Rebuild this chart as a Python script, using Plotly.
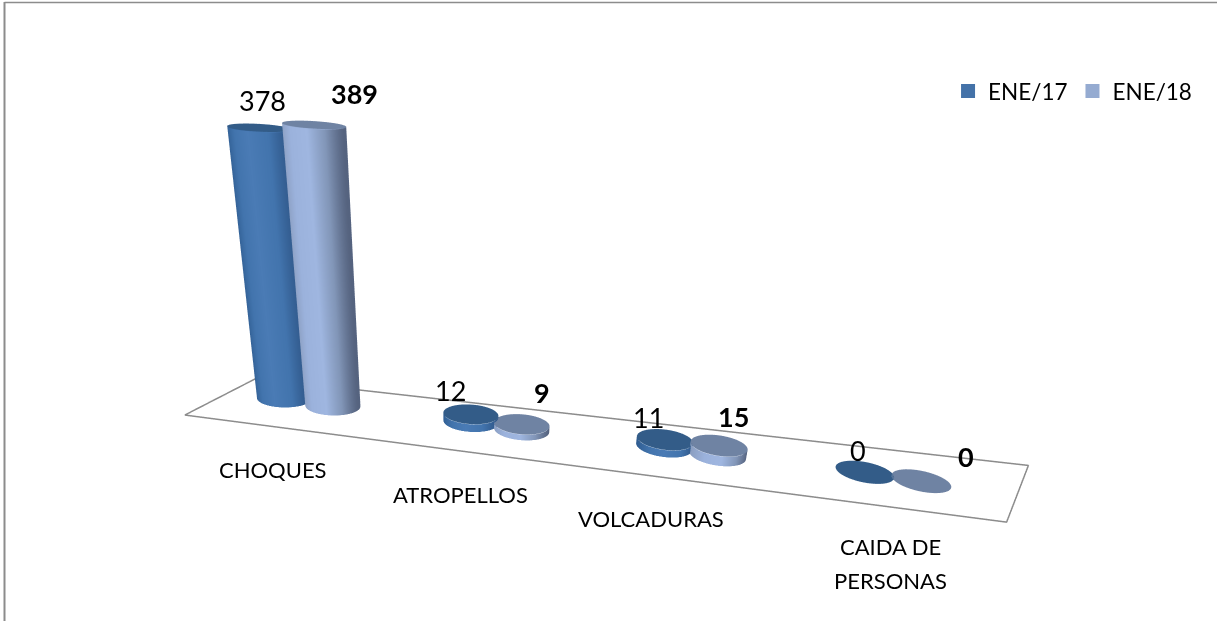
import numpy as np
import plotly.graph_objects as go

categories = ["CHOQUES", "ATROPELLOS", "VOLCADURAS", "CAIDA DE<br>PERSONAS"]
series_names = ["ENE/17", "ENE/18"]
values_17 = [378, 12, 11, 0]
values_18 = [389, 9, 15, 0]

R_X, R_Y = 0.142, 0.19
OFFS = [-0.135, 0.135]
DEPTH = [0.5, 0.47]
SCALES = [
    [[0, "#2f5c90"], [0.25, "#4274ad"], [0.5, "#4a7bb5"], [0.8, "#4274ad"], [1, "#30588a"]],
    [[0, "#8a9dbf"], [0.25, "#9bb2dc"], [0.55, "#9fb6e0"], [0.8, "#8296b8"], [1, "#55637f"]],
]
CAPS = ["#335c88", "#6f83a3"]
LEGEND = ["#4472a8", "#95abd1"]
LABEL_DX = [[3, -20, -16, -7], [40, 20, 15, 45]]
LABEL_DY = [[28, 24, 22, 22], [32, 32, 29, 25]]
CAT_DX = [22, -5, -39, -33]
CAT_DY = [-10, -6, 0, -13]

fig = go.Figure()
ang = np.linspace(0, 2 * np.pi, 73)
flat = dict(ambient=1, diffuse=0, specular=0, roughness=1, fresnel=0)

for s, vals in enumerate([values_17, values_18]):
    for i, v in enumerate(vals):
        cx = i + 0.5 + OFFS[s]
        cy = DEPTH[s]
        X = cx + R_X * np.cos(ang)
        Y = cy + R_Y * np.sin(ang)
        if v > 0:
            fig.add_surface(
                x=np.vstack([X, X]), y=np.vstack([Y, Y]),
                z=np.vstack([np.zeros_like(X), np.full_like(X, v)]),
                surfacecolor=np.vstack([np.cos(ang), np.cos(ang)]),
                colorscale=SCALES[s], cmin=-1, cmax=1, showscale=False,
                lighting=flat, hoverinfo="skip",
            )
        fig.add_surface(
            x=np.vstack([np.full_like(X, cx), X]), y=np.vstack([np.full_like(Y, cy), Y]),
            z=np.full((2, X.size), v + 0.4),
            surfacecolor=np.zeros((2, X.size)),
            colorscale=[[0, CAPS[s]], [1, CAPS[s]]], cmin=-1, cmax=1, showscale=False,
            lighting=flat, hoverinfo="skip",
        )

floor_x = [-0.005, 3.95, 4.26, 0.116, -0.005]
floor_y = [-0.04, -0.03, 1.03, 0.82, -0.04]
fig.add_scatter3d(x=floor_x, y=floor_y, z=[0] * 5, mode="lines",
                  line=dict(color="#8c8c8c", width=3), showlegend=False, hoverinfo="skip")

for s in range(2):
    fig.add_scatter3d(x=[None], y=[None], z=[None], mode="markers", name=series_names[s],
                      marker=dict(symbol="square", size=14, color=LEGEND[s]), hoverinfo="skip")

ann = []
for s, vals in enumerate([values_17, values_18]):
    for i, v in enumerate(vals):
        ann.append(dict(x=i + 0.5 + OFFS[s], y=DEPTH[s], z=v, text=f"<b>{v}</b>" if s else str(v),
                        showarrow=False, xshift=LABEL_DX[s][i], yshift=LABEL_DY[s][i],
                        font=dict(family="Lato", size=27, color="#000")))
for i, c in enumerate(categories):
    lines = c.split("<br>")
    for k, line in enumerate(lines):
        ann.append(dict(x=i + 0.5, y=-0.6, z=0, text=line, showarrow=False,
                        xshift=CAT_DX[i], yshift=CAT_DY[i] + 17 * (len(lines) - 1 - 2 * k),
                        font=dict(family="Lato", size=22, color="#000")))

ax = dict(visible=False)
fig.update_layout(
    width=1217, height=621, margin=dict(l=0, r=0, t=0, b=0), paper_bgcolor="white",
    showlegend=True,
    legend=dict(orientation="h", x=0.779, y=0.853, xanchor="left", yanchor="middle",
                font=dict(family="Lato", size=22.5, color="#000"), bgcolor="rgba(0,0,0,0)"),
    scene=dict(
        domain=dict(x=[0, 1], y=[0, 1]),
        dragmode="orbit",
        xaxis=dict(ax, range=[-0.2, 4.3]),
        yaxis=dict(ax, range=[-1, 1.1]),
        zaxis=dict(ax, range=[0, 400]),
        aspectmode="manual",
        aspectratio=dict(x=6.33, y=1.5, z=2.08),
        camera=dict(
            projection=dict(type="perspective"),
            center=dict(x=-0.035, y=0.32, z=-0.05),
            eye=dict(x=0.325, y=-4.30, z=1.823),
            up=dict(x=-0.08, y=0, z=0.997),
        ),
        annotations=ann,
        bgcolor="white",
    ),
    shapes=[
        dict(type="line", xref="paper", yref="paper", x0=4.5/1217, x1=1, y0=1-2.5/621, y1=1-2.5/621,
             line=dict(color="#8c8c8c", width=1.5)),
        dict(type="line", xref="paper", yref="paper", x0=4.5/1217, x1=4.5/1217, y0=0, y1=1-2/621,
             line=dict(color="#8c8c8c", width=2)),
    ],
)
fig.write_html("out.html", config=dict(displayModeBar=False),
               post_script="document.body.style.margin='0';document.body.style.overflow='hidden';")
